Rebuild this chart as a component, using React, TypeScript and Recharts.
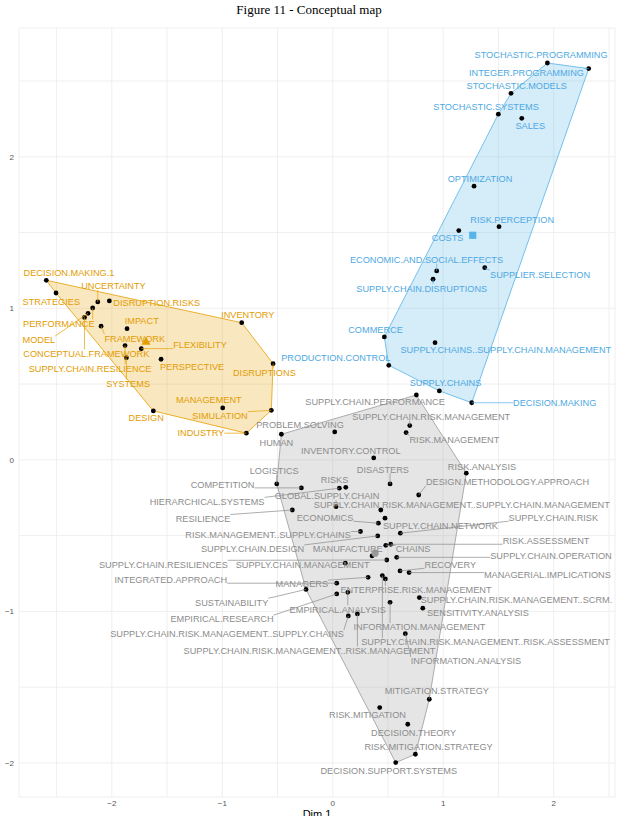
import { CartesianGrid, Scatter, ScatterChart, XAxis, YAxis } from 'recharts';

// cluster 1 (gray)
const grayTerms = [
  'SUPPLY.CHAIN.PERFORMANCE', 'SUPPLY.CHAIN.RISK.MANAGEMENT', 'RISK.MANAGEMENT', 'PROBLEM.SOLVING', 'HUMAN',
  'INVENTORY.CONTROL', 'RISK.ANALYSIS', 'DISASTERS', 'LOGISTICS', 'COMPETITION',
  'HIERARCHICAL.SYSTEMS', 'RISKS', 'DESIGN.METHODOLOGY.APPROACH', 'RESILIENCE', 'GLOBAL.SUPPLY.CHAIN',
  'SUPPLY.CHAIN.RISK.MANAGEMENT..SUPPLY.CHAIN.MANAGEMENT', 'SUPPLY.CHAIN.NETWORK', 'ECONOMICS', 'RISK.MANAGEMENT..SUPPLY.CHAINS', 'SUPPLY.CHAIN.DESIGN',
  'SUPPLY.CHAIN.RISK', 'CHAINS', 'RISK.ASSESSMENT', 'MANUFACTURE', 'SUPPLY.CHAIN.RESILIENCES',
  'SUPPLY.CHAIN.OPERATION', 'SUPPLY.CHAIN.MANAGEMENT', 'RECOVERY', 'MANAGERIAL.IMPLICATIONS', 'MANAGERS',
  'SUPPLY.CHAIN.RISK.MANAGEMENT..RISK.ASSESSMENT', 'ENTERPRISE.RISK.MANAGEMENT', 'INTEGRATED.APPROACH', 'SUSTAINABILITY', 'EMPIRICAL.RESEARCH',
  'EMPIRICAL.ANALYSIS', 'SUPPLY.CHAIN.RISK.MANAGEMENT..SCRM.', 'INFORMATION.MANAGEMENT', 'SENSITIVITY.ANALYSIS', 'SUPPLY.CHAIN.RISK.MANAGEMENT..SUPPLY.CHAINS',
  'SUPPLY.CHAIN.RISK.MANAGEMENT..RISK.MANAGEMENT', 'INFORMATION.ANALYSIS', 'MITIGATION.STRATEGY', 'RISK.MITIGATION', 'DECISION.THEORY',
  'RISK.MITIGATION.STRATEGY', 'DECISION.SUPPORT.SYSTEMS',
];
const grayX = [
  0.757, 0.697, 0.664, 0.018, -0.465, 0.371, 1.209, 0.519, -0.507, -0.284,
  0.06, 0.118, 0.778, -0.366, 0.03, 0.435, 0.473, 0.413, 0.251, 0.407,
  0.612, 0.48, 0.525, 0.356, 0.489, 0.579, 0.114, 0.609, 0.691, 0.32,
  0.449, 0.476, 0.036, -0.242, 0.036, 0.136, 0.784, 0.519, 0.815, 0.141,
  0.223, 0.657, 0.874, 0.425, 0.679, 0.748, 0.57,
];
const grayY = [
  0.428, 0.226, 0.18, 0.184, 0.169, 0.013, -0.088, -0.159, -0.159, -0.185,
  -0.187, -0.181, -0.232, -0.331, -0.309, -0.331, -0.385, -0.418, -0.473, -0.502,
  -0.484, -0.564, -0.557, -0.634, -0.661, -0.643, -0.682, -0.733, -0.744, -0.775,
  -0.764, -0.786, -0.814, -0.855, -0.885, -0.874, -0.909, -0.94, -0.979, -1.03,
  -1.017, -1.147, -1.58, -1.635, -1.745, -1.943, -1.998,
];

// cluster 2 (orange)
const orangeTerms = [
  'DECISION.MAKING.1', 'STRATEGIES', 'UNCERTAINTY', 'DISRUPTION.RISKS', 'PERFORMANCE',
  'MODEL', 'CONCEPTUAL.FRAMEWORK', 'FRAMEWORK', 'IMPACT', 'SUPPLY.CHAIN.RESILIENCE',
  'FLEXIBILITY', 'SYSTEMS', 'PERSPECTIVE', 'INVENTORY', 'DISRUPTIONS',
  'DESIGN', 'MANAGEMENT', 'SIMULATION', 'INDUSTRY',
];
const orangeX = [
  -2.593, -2.505, -2.127, -2.022, -2.173, -2.215, -2.247, -2.097, -1.862, -1.88,
  -1.733, -1.868, -1.554, -0.824, -0.54, -1.624, -0.996, -0.556, -0.782,
];
const orangeY = [
  1.185, 1.101, 1.042, 1.049, 1.002, 0.967, 0.94, 0.882, 0.866, 0.754,
  0.734, 0.674, 0.664, 0.905, 0.635, 0.323, 0.343, 0.327, 0.176,
];

// cluster 3 (blue)
const blueTerms = [
  'STOCHASTIC.PROGRAMMING', 'INTEGER.PROGRAMMING', 'STOCHASTIC.MODELS', 'STOCHASTIC.SYSTEMS', 'SALES',
  'OPTIMIZATION', 'RISK.PERCEPTION', 'COSTS', 'ECONOMIC.AND.SOCIAL.EFFECTS', 'SUPPLY.CHAIN.DISRUPTIONS',
  'SUPPLIER.SELECTION', 'COMMERCE', 'SUPPLY.CHAINS..SUPPLY.CHAIN.MANAGEMENT', 'PRODUCTION.CONTROL', 'SUPPLY.CHAINS',
  'DECISION.MAKING',
];
const blueX = [1.943, 2.317, 1.614, 1.499, 1.711, 1.279, 1.505, 1.141, 0.941, 0.908, 1.376, 0.467, 0.926, 0.507, 0.965, 1.258];
const blueY = [2.619, 2.582, 2.419, 2.281, 2.254, 1.806, 1.539, 1.513, 1.247, 1.192, 1.268, 0.811, 0.773, 0.624, 0.455, 0.377];

// cluster centroids: gray, orange, blue
const centroidX = [0.383, -1.69, 1.267];
const centroidY = [-0.616, 0.78, 1.482];

const axisTicks = [-2.5, -2, -1.5, -1, -0.5, 0, 0.5, 1, 1.5, 2, 2.5];

// label placement (pixel offset of the label centre from its point)
const grayLabelDx = [
  -41.3, 21.5, 48.3, -34.7, -5, -22.9, 15.7, -7.2, -2.5, -78.8,
  -132.3, -11.2, 88.8, -89.3, -9, 81, 55.5, -53.3, -92.4, -125.1,
  153, 27.3, 155.3, -24.3, -223.4, 154.3, -42.7, 50.3, 138.3, -66.3,
  103.2, 30.7, -166, -74.3, -114.7, -10, 97.1, 29.4, 55.1, -121.3,
  -47.9, 60.7, 7.5, -12.2, 5.8, 13.2, -6.9,
];
const grayLabelDy = [
  7, -9, 7.3, -7.7, 8, -7.3, -6.6, -14.7, -13.3, -2.7,
  13.2, -8, -13.3, 8.5, -10.6, -5.8, 7.7, -6, 2.8, 13,
  -16, 3.7, -3.8, -7, 4.3, -1.6, 1, -6.7, 1.9, 6.9,
  66.2, 11, -3.3, 12.9, 25.2, 17, 2, 24.8, 4.4, 18,
  36.5, 27.3, -8.6, 7.3, 8, -7.3, 7.6,
];
const orangeLabelDx = [22.7, -4.7, 15.7, 47.4, -33.9, -49.2, 1.8, 33.7, 14.7, -35, 58.7, 1.7, 31, 6.1, -8.7, -7.1, -13.9, -51.3, -45.5];
const orangeLabelDy = [-7.6, 8.3, -16, 1.3, 15.3, 26.7, 35.8, 12, -8, 22.6, -3.7, 25.6, 7.4, -7.7, 8.6, 6.3, -8, 5.4, -0.6];
const blueLabelDx = [-6.3, -62.2, 5.7, -12.3, 8.5, 6, 13.2, -11.2, -10.2, -11.3, 55.3, -8.8, 70.8, -52.9, 6.2, 83];
const blueLabelDy = [-8, 3.6, -7.6, -7.6, 7.4, -7.6, -7.4, 7, -11.3, 9, 6.6, -7.3, 6.6, -7.3, -8, 0];

const GRAY = '#999999';
const ORANGE = '#E69F00';
const BLUE = '#56B4E9';
const LABEL_SIZE = 9.2;
const LABEL_FONT = '"Liberation Sans", Arial, Helvetica, sans-serif';

type Pt = { x: number; y: number; term?: string; dx?: number; dy?: number };

const build = (terms: string[], xs: number[], ys: number[], dxs: number[], dys: number[]): Pt[] =>
  terms.map((term, i) => ({ term, x: xs[i], y: ys[i], dx: dxs[i], dy: dys[i] }));

const grayData = build(grayTerms, grayX, grayY, grayLabelDx, grayLabelDy);
const orangeData = build(orangeTerms, orangeX, orangeY, orangeLabelDx, orangeLabelDy);
const blueData = build(blueTerms, blueX, blueY, blueLabelDx, blueLabelDy);
const allPoints = [...grayData, ...orangeData, ...blueData];
const centroids = centroidX.map((x, i) => ({ x, y: centroidY[i], k: i }));

// convex hull (monotone chain)
const convexHull = (pts: Pt[]) => {
  const p = [...pts].sort((a, b) => a.x - b.x || a.y - b.y);
  const cross = (o: Pt, a: Pt, b: Pt) => (a.x - o.x) * (b.y - o.y) - (a.y - o.y) * (b.x - o.x);
  const lower: Pt[] = [];
  for (const q of p) {
    while (lower.length >= 2 && cross(lower[lower.length - 2], lower[lower.length - 1], q) <= 0) lower.pop();
    lower.push(q);
  }
  const upper: Pt[] = [];
  for (const q of [...p].reverse()) {
    while (upper.length >= 2 && cross(upper[upper.length - 2], upper[upper.length - 1], q) <= 0) upper.pop();
    upper.push(q);
  }
  lower.pop();
  upper.pop();
  return lower.concat(upper).map((q) => ({ x: q.x, y: q.y }));
};

let ctx: CanvasRenderingContext2D | null = null;
const textWidth = (s: string) => {
  if (!ctx && typeof document !== 'undefined') ctx = document.createElement('canvas').getContext('2d');
  if (!ctx) return s.length * LABEL_SIZE * 0.65;
  ctx.font = `${LABEL_SIZE}px ${LABEL_FONT}`;
  return ctx.measureText(s).width;
};

const fmt = (v: number) => (Number.isInteger(v) ? (v < 0 ? `\u2212${Math.abs(v)}` : String(v)) : '');

const hullLine = (fill: string) => (p: any) => {
  const pts = (p.points || []).map((q: any) => `${q.x},${q.y}`).join(' ');
  return <polygon points={pts} fill={fill} fillOpacity={0.25} stroke={fill} strokeWidth={0.8} strokeLinejoin="round" />;
};

const Dot = (props: any) => {
  const { cx, cy } = props;
  return <circle cx={cx} cy={cy} r={2.4} fill="#000" />;
};

const Centroid = (props: any) => {
  const { cx, cy, payload } = props;
  if (payload.k === 1) {
    return <polygon points={`${cx},${cy - 4.8} ${cx + 4.6},${cy + 3.2} ${cx - 4.6},${cy + 3.2}`} fill={ORANGE} />;
  }
  if (payload.k === 2) {
    return <rect x={cx - 3.6} y={cy - 3.6} width={7.2} height={7.2} fill={BLUE} />;
  }
  return <circle cx={cx} cy={cy} r={3.6} fill={GRAY} />;
};

const makeLabel = (color: string, textColor: string) => (props: any) => {
  const { cx, cy, payload } = props;
  const lx = cx + payload.dx;
  const ly = cy + payload.dy;
  const w = textWidth(payload.term);
  const h = 8;
  const nx = Math.min(Math.max(cx, lx - w / 2), lx + w / 2);
  const ny = Math.min(Math.max(cy, ly - h / 2), ly + h / 2);
  const gap = Math.hypot(nx - cx, ny - cy);
  return (
    <g>
      {gap > 4.5 ? <line x1={cx} y1={cy} x2={nx} y2={ny} stroke={color} strokeWidth={0.7} /> : null}
      <text x={lx} y={ly + LABEL_SIZE * 0.36} textAnchor="middle" fontSize={LABEL_SIZE} fontFamily={LABEL_FONT} fill={textColor}>
        {payload.term}
      </text>
    </g>
  );
};

const ConceptualMap = () => {
  return (
    <div style={{ position: 'absolute', left: 0, top: 0, width: 618, height: 816, background: '#fff', overflow: 'hidden' }}>
      <div
        style={{
          position: 'absolute',
          top: 2,
          left: 0,
          width: 618,
          textAlign: 'center',
          fontFamily: '"Liberation Serif", "Times New Roman", serif',
          fontSize: 13,
          color: '#000',
        }}
      >
        Figure 11 - Conceptual map
      </div>
      <ScatterChart width={618} height={816} margin={{ top: 28, right: 3, bottom: 0, left: 0 }}>
        <CartesianGrid stroke="#ebebeb" strokeWidth={0.8} />
        <XAxis
          type="number"
          dataKey="x"
          domain={[-2.84, 2.555]}
          allowDataOverflow
          ticks={axisTicks}
          tickFormatter={fmt}
          axisLine={false}
          tickLine={false}
          tickSize={2}
          tickMargin={1}
          height={19}
          interval={0}
          tick={{ fontSize: 8, fill: '#555', fontFamily: LABEL_FONT }}
        />
        <YAxis
          type="number"
          dataKey="y"
          domain={[-2.225, 2.85]}
          allowDataOverflow
          ticks={axisTicks.filter((t) => t >= -2)}
          tickFormatter={fmt}
          axisLine={false}
          tickLine={false}
          tickSize={3}
          tickMargin={2}
          width={19}
          interval={0}
          tick={{ fontSize: 8, fill: '#555', fontFamily: LABEL_FONT }}
        />
        <Scatter data={convexHull(grayData)} isAnimationActive={false} shape={() => <g />} line={hullLine(GRAY)} />
        <Scatter data={convexHull(orangeData)} isAnimationActive={false} shape={() => <g />} line={hullLine(ORANGE)} />
        <Scatter data={convexHull(blueData)} isAnimationActive={false} shape={() => <g />} line={hullLine(BLUE)} />
        <Scatter data={allPoints} isAnimationActive={false} shape={Dot} />
        <Scatter data={centroids} isAnimationActive={false} shape={Centroid} />
        <Scatter data={grayData} isAnimationActive={false} shape={makeLabel('#8a8a8a', '#8c8c8c')} />
        <Scatter data={orangeData} isAnimationActive={false} shape={makeLabel(ORANGE, '#e39c00')} />
        <Scatter data={blueData} isAnimationActive={false} shape={makeLabel(BLUE, '#4ea9e2')} />
      </ScatterChart>
      <div
        style={{
          position: 'absolute',
          top: 808,
          left: 19,
          width: 596,
          textAlign: 'center',
          fontFamily: LABEL_FONT,
          fontSize: 11,
          color: '#000',
        }}
      >
        Dim 1
      </div>
    </div>
  );
};

export default function App() {
  return <ConceptualMap />;
}
